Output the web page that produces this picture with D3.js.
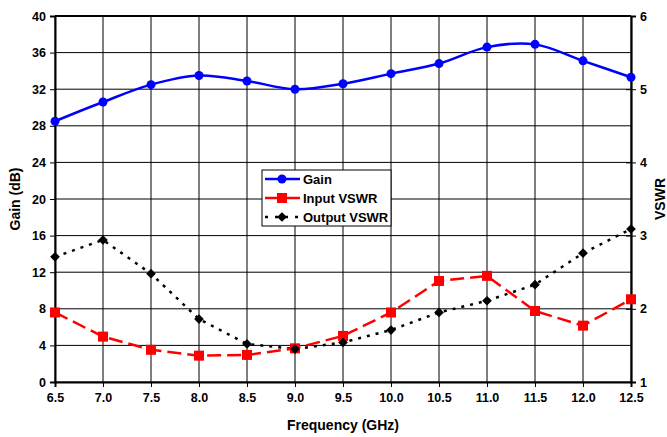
<!DOCTYPE html>
<html>
<head>
<meta charset="utf-8">
<script src="https://cdn.jsdelivr.net/npm/d3@7"></script>
<style>
body{margin:0;background:#fff;}
text{font-family:"Liberation Sans",Arial,sans-serif;font-weight:bold;}
</style>
</head>
<body>
<svg id="chart" width="667" height="437"></svg>
<script>
const freq = [6.5,7.0,7.5,8.0,8.5,9.0,9.5,10.0,10.5,11.0,11.5,12.0,12.5];
const gain = [28.5,30.6,32.5,33.5,32.9,32.0,32.6,33.7,34.8,36.6,36.9,35.1,33.3];
const inputVSWR = [1.95,1.62,1.44,1.36,1.37,1.46,1.63,1.95,2.38,2.45,1.97,1.77,2.13];
const outputVSWR = [2.71,2.94,2.48,1.86,1.52,1.45,1.54,1.71,1.95,2.11,2.33,2.76,3.09];
const xTicks = [6.5,7.0,7.5,8.0,8.5,9.0,9.5,10.0,10.5,11.0,11.5,12.0,12.5];
const gainTicks = [0,4,8,12,16,20,24,28,32,36,40];
const vswrTicks = [1,2,3,4,5,6];

const svg = d3.select("#chart");
const L=55, R=631, T=16, B=382;
const x = d3.scaleLinear().domain([6.5,12.5]).range([L,R]);
const yL = d3.scaleLinear().domain([0,40]).range([B,T]);
const yR = d3.scaleLinear().domain([1,6]).range([B,T]);

// grid
svg.append("g").selectAll("line").data(xTicks).join("line")
  .attr("x1",d=>x(d)).attr("x2",d=>x(d)).attr("y1",T).attr("y2",B)
  .attr("stroke","#000").attr("stroke-width",1);
svg.append("g").selectAll("line").data(gainTicks).join("line")
  .attr("x1",L).attr("x2",R).attr("y1",d=>yL(d)).attr("y2",d=>yL(d))
  .attr("stroke","#000").attr("stroke-width",1);

// frame
svg.append("line").attr("x1",L).attr("x2",R).attr("y1",T).attr("y2",T).attr("stroke","#000").attr("stroke-width",2);
svg.append("line").attr("x1",R+1).attr("x2",R+1).attr("y1",T).attr("y2",B).attr("stroke","#999").attr("stroke-width",1);

// axes
const axL = d3.axisLeft(yL).tickValues(gainTicks).tickSize(5).tickPadding(4).tickFormat(d3.format("d"));
const gL = svg.append("g").attr("transform",`translate(${L},0)`).call(axL);
const axR = d3.axisRight(yR).tickValues(vswrTicks).tickSize(5).tickPadding(4).tickFormat(d3.format("d"));
const gR = svg.append("g").attr("transform",`translate(${R},0)`).call(axR);
const axB = d3.axisBottom(x).tickValues(xTicks).tickSize(5).tickPadding(6).tickFormat(d3.format(".1f"));
const gB = svg.append("g").attr("transform",`translate(0,${B})`).call(axB);
[gL,gR,gB].forEach(g=>{
  g.selectAll("text").attr("font-size",12.5).attr("font-family","Liberation Sans, Arial, sans-serif").attr("font-weight","bold").attr("fill","#000");
  g.selectAll("line").attr("stroke","#000");
  g.select(".domain").attr("stroke","#000").attr("stroke-width",2);
});
gR.selectAll("line").attr("x1",-5);
gL.selectAll("line").attr("x2",-5);

// lines
const gainLine = d3.line().x((d,i)=>x(freq[i])).y(d=>yL(d)).curve(d3.curveCatmullRom.alpha(0.5));
svg.append("path").datum(gain).attr("d",gainLine).attr("fill","none").attr("stroke","#0000ff").attr("stroke-width",2.5);
const vLine = d3.line().x((d,i)=>x(freq[i])).y(d=>yR(d));
svg.append("path").datum(outputVSWR).attr("d",vLine).attr("fill","none").attr("stroke","#000").attr("stroke-width",2.5).attr("stroke-dasharray","3,6");
svg.append("path").datum(inputVSWR).attr("d",vLine).attr("fill","none").attr("stroke","#ff0000").attr("stroke-width",2.5).attr("stroke-dasharray","14,6");

// markers
svg.append("g").selectAll("circle").data(gain).join("circle")
  .attr("cx",(d,i)=>x(freq[i])).attr("cy",d=>yL(d)).attr("r",4.5).attr("fill","#0000ff");
svg.append("g").selectAll("rect").data(inputVSWR).join("rect")
  .attr("x",(d,i)=>x(freq[i])-5).attr("y",d=>yR(d)-5).attr("width",10).attr("height",10).attr("fill","#ff0000");
const diamond = d3.symbol().type(d3.symbolDiamond2).size(60);
svg.append("g").selectAll("path").data(outputVSWR).join("path")
  .attr("d",diamond).attr("transform",(d,i)=>`translate(${x(freq[i])},${yR(d)})`).attr("fill","#000");

// titles
svg.append("text").attr("transform",`translate(20,${(T+B)/2}) rotate(-90)`).attr("text-anchor","middle").attr("font-size",14).text("Gain (dB)");
svg.append("text").attr("transform",`translate(665,${(T+B)/2}) rotate(-90)`).attr("text-anchor","middle").attr("font-size",14).text("VSWR");
svg.append("text").attr("x",(L+R)/2).attr("y",430).attr("text-anchor","middle").attr("font-size",14).text("Frequency (GHz)");

// legend
const leg = svg.append("g");
leg.append("rect").attr("x",262).attr("y",170).attr("width",129).attr("height",56).attr("fill","#fff").attr("stroke","#000").attr("stroke-width",1);
const items = [
  {name:"Gain",color:"#0000ff",dash:null,mark:"circle"},
  {name:"Input VSWR",color:"#ff0000",dash:null,mark:"square"},
  {name:"Output VSWR",color:"#000",dash:"3,7",mark:"diamond"}
];
items.forEach((it,i)=>{
  const yy = 179+i*19;
  leg.append("line").attr("x1",265).attr("x2",300).attr("y1",yy).attr("y2",yy).attr("stroke",it.color).attr("stroke-width",2.5).attr("stroke-dasharray",it.dash);
  if(it.mark==="circle") leg.append("circle").attr("cx",282).attr("cy",yy).attr("r",4.5).attr("fill",it.color);
  if(it.mark==="square") leg.append("rect").attr("x",277).attr("y",yy-5).attr("width",10).attr("height",10).attr("fill",it.color);
  if(it.mark==="diamond") leg.append("path").attr("d",diamond).attr("transform",`translate(282,${yy})`).attr("fill",it.color);
  leg.append("text").attr("x",303).attr("y",yy+4.5).attr("font-size",13).text(it.name);
});
</script>
</body>
</html>
